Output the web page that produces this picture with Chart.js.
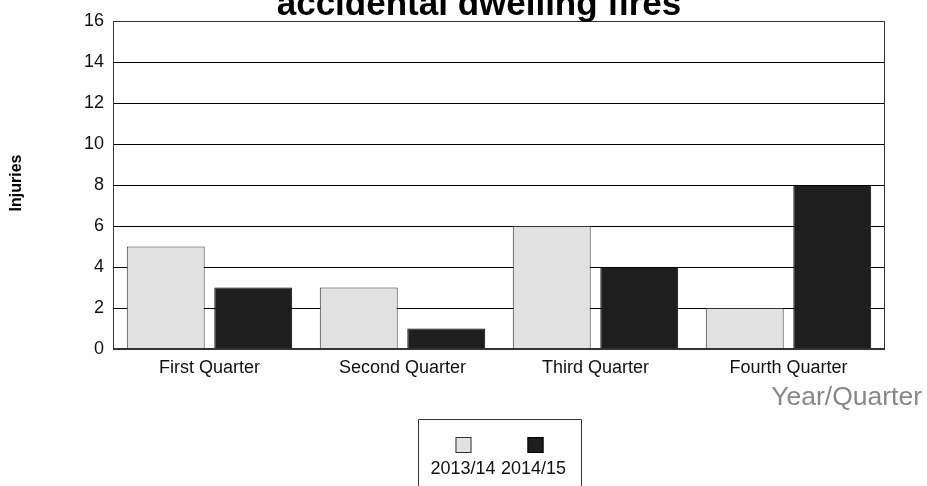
<!DOCTYPE html>
<html>
<head>
<meta charset="utf-8">
<script src="https://cdn.jsdelivr.net/npm/chart.js@4"></script>
<style>
  html, body { margin: 0; padding: 0; background: #fff; }
  #wrap { width: 927px; height: 486px; }
</style>
</head>
<body>
<div id="wrap"><canvas id="myChart" width="927" height="486"></canvas></div>
<script>
const quarters = ["First Quarter", "Second Quarter", "Third Quarter", "Fourth Quarter"];
const seriesNames = ["2013/14", "2014/15"];
const injuries1314 = [5, 3, 6, 2];
const injuries1415 = [3, 1, 4, 8];
const yTicks = [0, 2, 4, 6, 8, 10, 12, 14, 16];

const FONT = "'Liberation Sans', Arial, sans-serif";

// titles, plot frame and the legend box are drawn by hand
const decorations = {
  id: "decorations",
  afterDraw(chart) {
    const c = chart.ctx;
    const a = chart.chartArea;
    c.save();
    // frame round the plot
    c.strokeStyle = "#333";
    c.lineWidth = 1;
    c.strokeRect(a.left + 0.5, a.top + 0.5, a.right - a.left - 1, a.bottom - a.top);
    c.beginPath();
    c.lineWidth = 2;
    c.moveTo(a.left, a.bottom);
    c.lineTo(a.right, a.bottom);
    c.stroke();

    // main title (top of it is off the canvas)
    c.fillStyle = "#000";
    c.font = "bold 35px " + FONT;
    c.textAlign = "center";
    c.textBaseline = "alphabetic";
    c.fillText("accidental dwelling fires", 479, 15);

    // y title
    c.save();
    c.translate(17, 183);
    c.rotate(-Math.PI / 2);
    c.font = "bold 16px " + FONT;
    c.textBaseline = "middle";
    c.fillText("Injuries", 0, 0);
    c.restore();

    // x title
    c.fillStyle = "#888";
    c.font = "26.5px " + FONT;
    c.textAlign = "right";
    c.textBaseline = "middle";
    c.fillText("Year/Quarter", 922, 398);

    // legend
    c.strokeStyle = "#333";
    c.lineWidth = 1;
    c.beginPath();
    c.moveTo(418.5, 500);
    c.lineTo(418.5, 419.5);
    c.lineTo(581.5, 419.5);
    c.lineTo(581.5, 500);
    c.stroke();
    const boxX = [463.5, 535.5];
    const textX = [463, 533.5];
    chart.data.datasets.forEach((ds, i) => {
      const x = boxX[i];
      c.fillStyle = ds.backgroundColor;
      c.fillRect(x - 8, 437, 16, 16);
      c.strokeStyle = ds.borderColor;
      c.strokeRect(x - 7.5, 437.5, 15, 15);
      c.fillStyle = "#111";
      c.font = "18px " + FONT;
      c.textAlign = "center";
      c.textBaseline = "middle";
      c.fillText(ds.label, textX[i], 469);
    });
    c.restore();
  }
};

new Chart(document.getElementById("myChart").getContext("2d"), {
  type: "bar",
  data: {
    labels: quarters,
    datasets: [
      {
        label: seriesNames[0],
        data: injuries1314,
        backgroundColor: "#e1e1e1",
        borderColor: "#333",
        borderWidth: 1,
      },
      {
        label: seriesNames[1],
        data: injuries1415,
        backgroundColor: "#1e1e1e",
        borderColor: "#000",
        borderWidth: 1,
      },
    ],
  },
  options: {
    responsive: false,
    animation: false,
    categoryPercentage: 0.907,
    barPercentage: 0.89,
    layout: { padding: { left: 83, right: 42, top: 21, bottom: 92 } },
    plugins: {
      legend: { display: false },
      title: { display: false },
      tooltip: { enabled: false },
    },
    scales: {
      x: {
        grid: { display: false },
        border: { display: false },
        ticks: { color: "#111", font: { family: FONT, size: 18 }, padding: 0 },
        afterFit: (s) => { s.height = 45; },
      },
      y: {
        min: 0,
        max: 16,
        afterBuildTicks: (s) => { s.ticks = yTicks.map((v) => ({ value: v })); },
        grid: { color: "#000", drawTicks: false },
        border: { display: false },
        ticks: { color: "#111", font: { family: FONT, size: 18 }, padding: 9 },
        afterFit: (s) => { s.width = 30; },
      },
    },
  },
  plugins: [decorations],
});
</script>
</body>
</html>
